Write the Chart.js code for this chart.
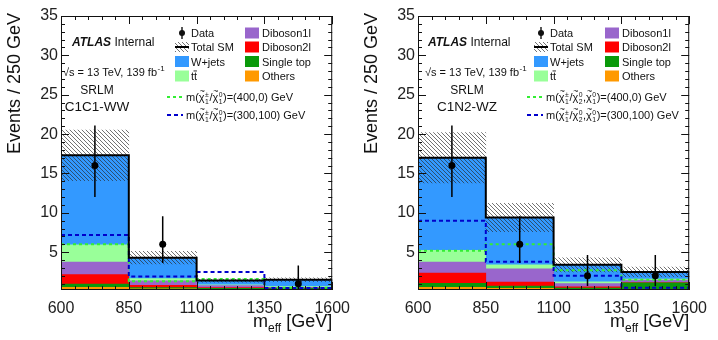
<!DOCTYPE html>
<html>
<head>
<meta charset="utf-8">
<script src="https://cdn.jsdelivr.net/npm/chart.js@4.4.0/dist/chart.umd.min.js"></script>
<style>
  body { margin: 0; background: #fff; width: 718px; height: 340px; position: relative; overflow: hidden; }
  .panel { position: absolute; top: 0; width: 359px; height: 340px; }
</style>
</head>
<body>
<div class="panel" style="left:0"><canvas id="chartWW" width="359" height="340"></canvas></div>
<div class="panel" style="left:357px"><canvas id="chartWZ" width="359" height="340"></canvas></div>
<script>
// binning and axis ticks
const binEdges = [600, 850, 1100, 1350, 1600];
const binLabels = ['600-850', '850-1100', '1100-1350', '1350-1600'];
const xTicks = [600, 850, 1100, 1350, 1600];
const yTicks = [5, 10, 15, 20, 25, 30, 35];
const yMin = 0.2, yMax = 35;

// SRLM, C1C1-WW
const wwOthers    = [0.55, 0.35, 0.30, 0.10];
const wwSingleTop = [0.40, 0.15, 0.10, 0.30];
const wwDiboson2l = [1.20, 0.30, 0.10, 0.05];
const wwDiboson1l = [1.60, 0.55, 0.25, 0.10];
const wwTtbar     = [2.20, 0.30, 0.10, 0.10];
const wwWjets     = [11.35, 2.65, 0.55, 0.85];
const wwUncert    = [3.2, 0.8, 0.2, 0.25];
const wwData      = [16, 6, null, 1];
const wwDataUp    = [5.1, 3.58, null, 2.3];
const wwDataDown  = [4.0, 2.38, null, 0.83];
const wwSig400    = [6.0, 1.3, 1.6, 0.5];
const wwSig300    = [7.2, 1.9, 2.5, 0.45];

// SRLM, C1N2-WZ
const wzOthers    = [0.55, 0.40, 0.30, 0.10];
const wzSingleTop = [0.50, 0.30, 0.15, 1.00];
const wzDiboson2l = [1.30, 0.50, 0.15, 0.05];
const wzDiboson1l = [1.40, 1.70, 0.40, 0.30];
const wzTtbar     = [1.50, 0.50, 0.25, 0.15];
const wzWjets     = [11.75, 6.00, 2.15, 0.90];
const wzUncert    = [3.2, 1.8, 0.9, 0.6];
const wzData      = [16, 6, 2, 2];
const wzDataUp    = [5.1, 3.58, 2.64, 2.64];
const wzDataDown  = [4.0, 2.38, 1.29, 1.29];
const wzSig400    = [5.2, 6.0, 2.7, 1.5];
const wzSig300    = [9.0, 3.8, 2.0, 0.5];

const FONT = '"Liberation Sans", Arial, sans-serif';
const font = (size, style) => (style ? style + ' ' : '') + size + 'px ' + FONT;

function makeHatch() {
  const c = document.createElement('canvas');
  c.width = 4; c.height = 4;
  const g = c.getContext('2d');
  g.strokeStyle = 'rgba(40,40,40,0.65)';
  g.lineWidth = 1;
  g.beginPath();
  g.moveTo(0, 0); g.lineTo(4, 4);
  g.moveTo(-1, 3); g.lineTo(1, 5);
  g.moveTo(3, -1); g.lineTo(5, 1);
  g.stroke();
  return g.createPattern(c, 'repeat');
}
const hatch = makeHatch();

// chi-tilde with stacked super/subscript, returns the new x
function drawChi(ctx, x, y, size, sup, sub) {
  ctx.font = font(size);
  ctx.fillText('\u03c7', x, y);
  const w = ctx.measureText('\u03c7').width;
  ctx.font = font(size * 0.8);
  const tw = ctx.measureText('~').width;
  ctx.fillText('~', x + (w - tw) / 2 + 0.5, y - size * 0.62);
  ctx.font = font(size * 0.62);
  ctx.fillText(sup, x + w + 0.5, y - size * 0.38);
  ctx.fillText(sub, x + w + 0.5, y + size * 0.3);
  return x + w + Math.max(ctx.measureText(sup).width, ctx.measureText(sub).width) + 1;
}

function drawText(ctx, str, x, y, f) {
  ctx.font = f;
  ctx.fillText(str, x, y);
  return x + ctx.measureText(str).width;
}

// frame, ROOT-style inner ticks and data error bars
const rootFrame = {
  id: 'rootFrame',
  afterDatasetsDraw(chart, args, opts) {
    const ctx = chart.ctx, a = chart.chartArea;
    const xs = chart.scales.xe, ys = chart.scales.y;
    ctx.save();
    // data error bars
    ctx.strokeStyle = '#000';
    ctx.lineWidth = 1.5;
    ctx.beginPath();
    opts.data.forEach((v, i) => {
      if (v === null) return;
      const x = xs.getPixelForValue((binEdges[i] + binEdges[i + 1]) / 2);
      const top = Math.max(a.top, ys.getPixelForValue(v + opts.up[i]));
      const bot = Math.min(a.bottom, ys.getPixelForValue(v - opts.down[i]));
      ctx.moveTo(x, top); ctx.lineTo(x, bot);
    });
    ctx.stroke();

    ctx.strokeStyle = '#111';
    ctx.lineWidth = 1;
    ctx.strokeRect(a.left + 0.5, a.top + 0.5, a.right - a.left - 1, a.bottom - a.top - 1);
    ctx.beginPath();
    for (let v = 1; v <= yMax; v++) {
      const len = v % 5 === 0 ? 8 : 4;
      const py = Math.round(ys.getPixelForValue(v)) + 0.5;
      ctx.moveTo(a.left, py); ctx.lineTo(a.left + len, py);
      ctx.moveTo(a.right, py); ctx.lineTo(a.right - len, py);
    }
    for (let v = binEdges[0]; v <= binEdges[binEdges.length - 1]; v += 50) {
      const len = (v - binEdges[0]) % 250 === 0 ? 8 : 4;
      const px = Math.round(xs.getPixelForValue(v)) + 0.5;
      ctx.moveTo(px, a.bottom); ctx.lineTo(px, a.bottom - len);
      ctx.moveTo(px, a.top); ctx.lineTo(px, a.top + len);
    }
    ctx.stroke();
    ctx.restore();
  }
};

// labels, legend and axis titles
const atlasText = {
  id: 'atlasText',
  afterDraw(chart, args, o) {
    const ctx = chart.ctx, a = chart.chartArea;
    ctx.save();
    ctx.fillStyle = '#111';
    ctx.textBaseline = 'alphabetic';
    ctx.textAlign = 'left';

    // y title
    ctx.save();
    ctx.translate(15, 13);
    ctx.rotate(-Math.PI / 2);
    ctx.textAlign = 'right';
    ctx.textBaseline = 'middle';
    ctx.font = font(18);
    ctx.fillText('Events / 250 GeV', 0, 0);
    ctx.restore();

    // x title
    ctx.font = font(18);
    const wm = ctx.measureText('m').width, wg = ctx.measureText(' [GeV]').width;
    ctx.font = font(12);
    const we = ctx.measureText('eff').width;
    let x = a.right - (wm + we + wg);
    x = drawText(ctx, 'm', x, 327, font(18));
    x = drawText(ctx, 'eff', x, 332, font(12));
    drawText(ctx, ' [GeV]', x, 327, font(18));

    // experiment label
    x = drawText(ctx, 'ATLAS', o.atlasX, 46, font(12, 'italic bold'));
    drawText(ctx, ' Internal', x, 46, font(12));
    x = drawText(ctx, '\u221as = 13 TeV, 139 fb', o.lumiX, 76, font(11));
    drawText(ctx, '-1', x + 0.5, 71, font(8));

    ctx.textAlign = 'center';
    drawText(ctx, 'SRLM', o.regionX, 94, font(12));
    drawText(ctx, o.selection, o.regionX, 111, font(13.5));
    ctx.textAlign = 'left';

    // legend
    const lx = o.legendX, rx = o.legendX2;
    const rows = [37, 51, 65.5, 80];
    ctx.beginPath();
    ctx.arc(lx + 7, rows[0] - 4, 3, 0, Math.PI * 2);
    ctx.fill();
    ctx.fillRect(lx + 6.3, rows[0] - 10, 1.4, 12);
    ctx.fillStyle = hatch;
    ctx.fillRect(lx, rows[1] - 9, 14, 10);
    ctx.fillStyle = '#000';
    ctx.fillRect(lx, rows[1] - 5, 14, 2);
    const boxes = [
      [lx, rows[2], '#3399ff', 'W+jets'],
      [lx, rows[3], '#99ff99', 'tt'],
      [rx, rows[0], '#9966cc', 'Diboson1l'],
      [rx, rows[1], '#ff0000', 'Diboson2l'],
      [rx, rows[2], '#0a990a', 'Single top'],
      [rx, rows[3], '#ff9900', 'Others']
    ];
    boxes.forEach(b => {
      ctx.fillStyle = b[2];
      ctx.fillRect(b[0], b[1] - 9.5, 14, 11);
    });
    ctx.fillStyle = '#111';
    drawText(ctx, 'Data', lx + 16, rows[0], font(11));
    drawText(ctx, 'Total SM', lx + 16, rows[1], font(11));
    drawText(ctx, 'W+jets', lx + 16, rows[2], font(11));
    const tEnd = drawText(ctx, 'tt', lx + 16, rows[3], font(11));
    ctx.fillRect(tEnd - 3.6, rows[3] - 9.5, 3.4, 0.9);
    boxes.slice(2).forEach(b => drawText(ctx, b[3], rx + 17, b[1], font(11)));

    // signal lines
    const sig = [[101, '#33ee33', [3, 3], '(400,0) GeV'], [119, '#0000cc', [4, 3], '(300,100) GeV']];
    sig.forEach(s => {
      ctx.save();
      ctx.strokeStyle = s[1];
      ctx.lineWidth = 2;
      ctx.setLineDash(s[2]);
      ctx.beginPath();
      ctx.moveTo(o.sigX, s[0] - 4); ctx.lineTo(o.sigX + 16, s[0] - 4);
      ctx.stroke();
      ctx.restore();
      let t = drawText(ctx, 'm(', o.sigX + 19, s[0], font(11));
      t = drawChi(ctx, t, s[0], 11, '\u00b1', '1');
      t = drawText(ctx, '/', t, s[0], font(11));
      if (o.neutralino2) {
        t = drawChi(ctx, t, s[0], 11, '0', '2');
        t = drawText(ctx, ',', t, s[0], font(11));
      }
      t = drawChi(ctx, t, s[0], 11, '0', '1');
      drawText(ctx, ')=' + s[3], t, s[0], font(11));
    });
    ctx.restore();
  }
};

function buildPanel(canvasId, s, o) {
  const nBins = binLabels.length;
  const totals = binLabels.map((_, i) =>
    s.others[i] + s.singleTop[i] + s.diboson2l[i] + s.diboson1l[i] + s.ttbar[i] + s.wjets[i]);
  // histogram outline: left edge of each bin carries that bin's value, the last edge repeats it
  const steps = vals => binEdges.map((x, i) => ({ x: x, y: vals[Math.min(i, nBins - 1)] }));
  const outline = [{ x: binEdges[0], y: yMin }].concat(steps(totals), [{ x: binEdges[nBins], y: yMin }]);
  const centers = binLabels.map((_, i) => (binEdges[i] + binEdges[i + 1]) / 2);

  const bkg = [
    ['Others', s.others, '#ff9900'],
    ['Single top', s.singleTop, '#0a990a'],
    ['Diboson2l', s.diboson2l, '#ff0000'],
    ['Diboson1l', s.diboson1l, '#9966cc'],
    ['ttbar', s.ttbar, '#99ff99'],
    ['W+jets', s.wjets, '#3399ff']
  ];

  const datasets = [
    {
      type: 'line', label: 'Data', xAxisID: 'xe', yAxisID: 'y', order: 0,
      data: centers.map((c, i) => ({ x: c, y: s.data[i] })),
      showLine: false, pointRadius: 3.5, pointBackgroundColor: '#000', pointBorderWidth: 0
    },
    {
      type: 'line', label: 'Total SM', xAxisID: 'xe', yAxisID: 'y', order: 1,
      data: outline, stepped: 'before', borderColor: '#000', borderWidth: 2, pointRadius: 0, fill: false
    },
    {
      type: 'line', label: 'sig 300,100', xAxisID: 'xe', yAxisID: 'y', order: 2,
      data: steps(s.sig300), stepped: 'before', borderColor: '#0000cc', borderWidth: 2,
      borderDash: [4, 3], pointRadius: 0, fill: false
    },
    {
      type: 'line', label: 'sig 400,0', xAxisID: 'xe', yAxisID: 'y', order: 2,
      data: steps(s.sig400), stepped: 'before', borderColor: '#33ee33', borderWidth: 2,
      borderDash: [3, 3], pointRadius: 0, fill: false
    },
    {
      type: 'bar', label: 'Uncertainty', xAxisID: 'xb', yAxisID: 'y', order: 3,
      data: totals.map((t, i) => [t - s.uncert[i], t + s.uncert[i]]),
      backgroundColor: hatch
    }
  ].concat(bkg.map(b => ({
    type: 'bar', label: b[0], xAxisID: 'xb', yAxisID: 'ys', order: 4, stack: 'bkg',
    data: b[1], backgroundColor: b[2]
  })));

  return new Chart(document.getElementById(canvasId), {
    type: 'bar',
    data: { labels: binLabels, datasets: datasets },
    options: {
      responsive: false,
      animation: false,
      layout: { padding: { top: 16, right: 22, left: 0, bottom: 0 } },
      datasets: { bar: { grouped: false, barPercentage: 1, categoryPercentage: 1, borderWidth: 0 } },
      plugins: {
        legend: { display: false },
        tooltip: { enabled: false },
        rootFrame: { data: s.data, up: s.dataUp, down: s.dataDown },
        atlasText: o
      },
      scales: {
        xb: { type: 'category', display: false, offset: true },
        xe: {
          type: 'linear', position: 'bottom', offset: false, min: binEdges[0], max: binEdges[nBins],
          afterBuildTicks: sc => { sc.ticks = xTicks.map(v => ({ value: v })); },
          afterFit: sc => { sc.height = 50; },
          grid: { display: false, drawTicks: false }, border: { display: false },
          ticks: { color: '#222', font: { size: 16, family: FONT }, padding: 9, maxRotation: 0,
                   callback: v => String(v) }
        },
        y: {
          type: 'linear', position: 'left', min: yMin, max: yMax,
          afterBuildTicks: sc => { sc.ticks = yTicks.map(v => ({ value: v })); },
          afterFit: sc => { sc.width = 61; },
          grid: { display: false, drawTicks: false }, border: { display: false },
          ticks: { color: '#222', font: { size: 16, family: FONT }, padding: 3,
                   callback: v => String(v) }
        },
        ys: { type: 'linear', display: false, stacked: true, min: yMin, max: yMax }
      }
    },
    plugins: [rootFrame, atlasText]
  });
}

buildPanel('chartWW', {
  others: wwOthers, singleTop: wwSingleTop, diboson2l: wwDiboson2l, diboson1l: wwDiboson1l,
  ttbar: wwTtbar, wjets: wwWjets, uncert: wwUncert,
  data: wwData, dataUp: wwDataUp, dataDown: wwDataDown, sig400: wwSig400, sig300: wwSig300
}, { selection: 'C1C1-WW', atlasX: 72, lumiX: 63, regionX: 97, legendX: 175, legendX2: 245, sigX: 167, neutralino2: false });

buildPanel('chartWZ', {
  others: wzOthers, singleTop: wzSingleTop, diboson2l: wzDiboson2l, diboson1l: wzDiboson1l,
  ttbar: wzTtbar, wjets: wzWjets, uncert: wzUncert,
  data: wzData, dataUp: wzDataUp, dataDown: wzDataDown, sig400: wzSig400, sig300: wzSig300
}, { selection: 'C1N2-WZ', atlasX: 71, lumiX: 68, regionX: 110, legendX: 177, legendX2: 248, sigX: 170, neutralino2: true });
</script>
</body>
</html>
